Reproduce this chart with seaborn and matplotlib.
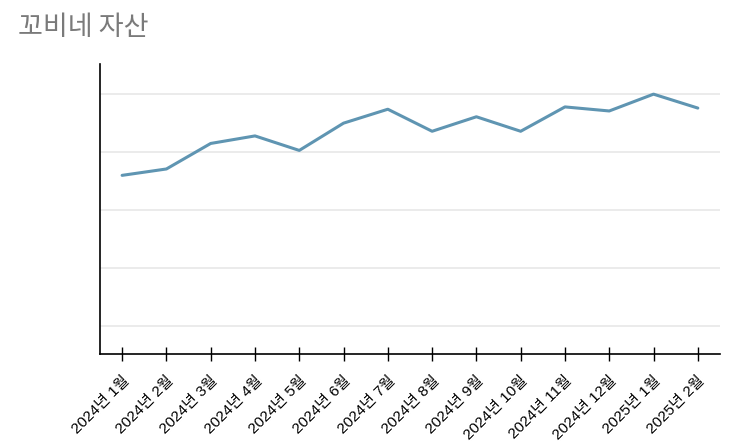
import pandas as pd
import matplotlib.pyplot as plt
import seaborn as sns

# 월별 자산 (단위 없음, 그림에서 읽은 값)
months = ['2024년 1월', '2024년 2월', '2024년 3월', '2024년 4월', '2024년 5월',
          '2024년 6월', '2024년 7월', '2024년 8월', '2024년 9월', '2024년 10월',
          '2024년 11월', '2024년 12월', '2025년 1월', '2025년 2월']
assets = [36.0, 37.1, 41.5, 42.8, 40.3, 45.0, 47.4, 43.6, 46.1, 43.6, 47.8, 47.1, 50.0, 47.6]
grid_values = [10, 20, 30, 40, 50]

df = pd.DataFrame({'month': months, 'asset': assets})
df['pos'] = range(len(df))

sns.set_style('white')
plt.rcParams['font.family'] = ['Liberation Sans', 'Noto Sans CJK KR', 'DejaVu Sans']

fig = plt.figure(figsize=(7.33, 4.45), dpi=100)
ax = fig.add_axes([0.1364, 0.2045, 0.8458, 0.6517])

for g in grid_values:
    ax.axhline(g, color='#e8e8e8', lw=1.2, zorder=0)

sns.lineplot(data=df, x='pos', y='asset', ax=ax, color='#5f95b2', linewidth=2.2)

ax.set_xlim(-0.5, 13.5)
ax.set_ylim(5.2, 55.2)
ax.set_xticks(df['pos'])
ax.set_xticklabels(months, rotation=45, ha='right', rotation_mode='anchor', fontsize=11)
ax.set_yticks([])
ax.set_xlabel('')
ax.set_ylabel('')
ax.tick_params(axis='x', bottom=True, direction='inout', length=10, width=1,
               color='black', labelcolor='black', pad=9)

for side in ['top', 'right']:
    ax.spines[side].set_visible(False)
for side in ['left', 'bottom']:
    ax.spines[side].set_color('black')
    ax.spines[side].set_linewidth(1.2)

fig.text(0.024, 0.938, '꼬비네 자산', fontsize=19.5, color='#7a7a7a', va='center', ha='left',
         family=['Noto Sans CJK KR'])

fig.savefig('out.png', dpi=100)
